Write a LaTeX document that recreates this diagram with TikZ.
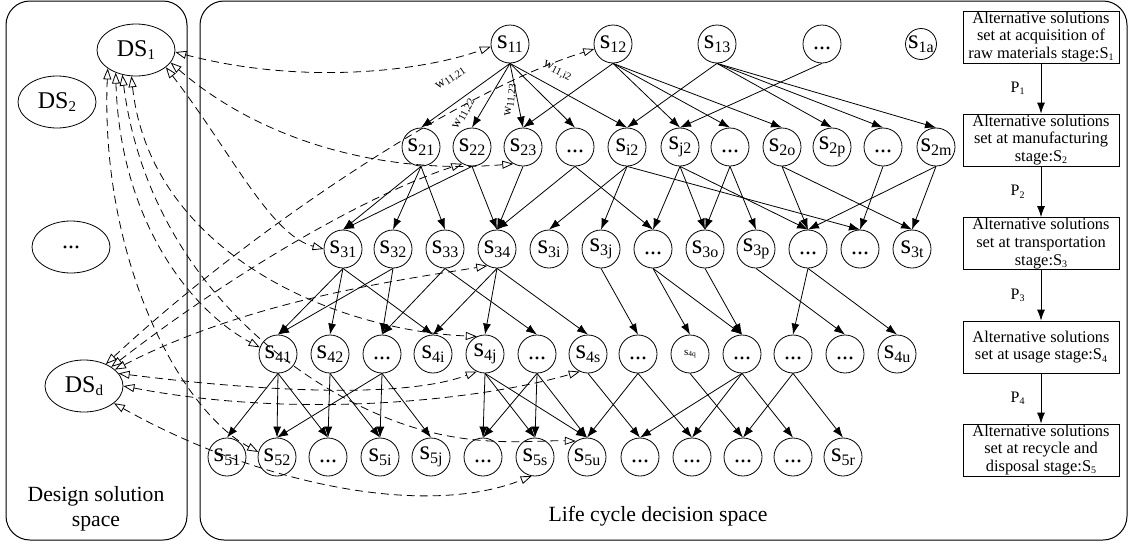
\documentclass[tikz,border=0pt]{standalone}
\usepackage{fontspec}
\setmainfont{Liberation Serif}
\usetikzlibrary{arrows.meta,shapes.geometric}
\newcommand{\sv}[1]{s\raisebox{-0.35ex}{\fontsize{16}{16}\selectfont #1}}
\newcommand{\dsv}[1]{DS\raisebox{-0.3ex}{\fontsize{15}{15}\selectfont #1}}
\newcommand{\ssb}[1]{\raisebox{-0.3ex}{\fontsize{10}{10}\selectfont #1}}
\newcommand{\wl}[1]{w\raisebox{-0.35ex}{\fontsize{10.5}{10.5}\selectfont #1}}
\begin{document}
\begin{tikzpicture}[x=1pt,y=-1pt,
 cn/.style={circle,draw,line width=0.8pt,minimum size=38pt,inner sep=0pt,font=\fontsize{27}{27}\selectfont},
 dn/.style={cn,font=\fontsize{24}{24}\selectfont},
 dsn/.style={ellipse,draw,line width=0.8pt,minimum width=78pt,minimum height=52pt,inner sep=0pt,font=\fontsize{24}{24}\selectfont},
 bx/.style={draw,line width=0.8pt,minimum width=156pt,minimum height=52pt,inner sep=0pt,align=center,font=\fontsize{16.4}{17.7}\selectfont},
 sa/.style={line width=0.8pt,-{Latex[length=11pt,width=8pt]}},
 da/.style={line width=0.8pt,dash pattern=on 8pt off 5pt,{Triangle[open,length=11pt,width=8pt]}-{Triangle[open,length=11pt,width=8pt]}},
 wlab/.style={font=\fontsize{13.5}{13.5}\selectfont,inner sep=0pt},
 plab/.style={font=\fontsize{16}{16}\selectfont,inner sep=0pt},
 panel/.style={draw,line width=1pt,rounded corners=24pt}]
\useasboundingbox (0,0) rectangle (1128,544);
\path[panel] (6,1) rectangle (187,540);
\path[panel] (200,1) rectangle (1127,540);
\node[font=\fontsize{21.7}{25}\selectfont,align=center] (dss) at (96,509) {Design solution\\space};
\node[font=\fontsize{21.7}{25}\selectfont] (lcs) at (658,516) {Life cycle decision space};
% design solutions
\node[dsn] (DS1) at (136,50) {\dsv{1}};
\node[dsn] (DS2) at (57,102) {\dsv{2}};
\node[dsn] (DSx) at (71,247) {...};
\node[dsn] (DSd) at (84,386) {\dsv{d}};
% row 1
\node[cn] (a1) at (510,44) {\sv{11}};
\node[cn] (a2) at (613,44) {\sv{12}};
\node[cn] (a3) at (717,44) {\sv{13}};
\node[dn] (a4) at (822,44) {\vphantom{s}...};
\node[cn,minimum size=31pt] (a5) at (921,44) {\sv{1a}};
% row 2
\node[cn] (b1) at (421,147) {\sv{21}};
\node[cn] (b2) at (472,147) {\sv{22}};
\node[cn] (b3) at (523,147) {\sv{23}};
\node[dn] (b4) at (575,147) {\vphantom{s}...};
\node[cn] (b5) at (627,147) {\sv{i2}};
\node[cn] (b6) at (680,147) {\sv{j2}};
\node[dn] (b7) at (730,147) {\vphantom{s}...};
\node[cn] (b8) at (782,147) {\sv{2o}};
\node[cn] (b9) at (832,147) {\sv{2p}};
\node[dn] (b10) at (883,147) {\vphantom{s}...};
\node[cn] (b11) at (936,147) {\sv{2m}};
% row 3
\node[cn] (c1) at (343,249) {\sv{31}};
\node[cn] (c2) at (393,249) {\sv{32}};
\node[cn] (c3) at (445,249) {\sv{33}};
\node[cn] (c4) at (497,249) {\sv{34}};
\node[cn] (c5) at (549,249) {\sv{3i}};
\node[cn] (c6) at (601,249) {\sv{3j}};
\node[dn] (c7) at (653,249) {\vphantom{s}...};
\node[cn] (c8) at (705,249) {\sv{3o}};
\node[cn] (c9) at (756,249) {\sv{3p}};
\node[dn] (c10) at (808,249) {\vphantom{s}...};
\node[dn] (c11) at (860,249) {\vphantom{s}...};
\node[cn] (c12) at (912,249) {\sv{3t}};
% row 4
\node[cn] (d1) at (278,354) {\sv{41}};
\node[cn] (d2) at (330,354) {\sv{42}};
\node[dn] (d3) at (382,354) {\vphantom{s}...};
\node[cn] (d4) at (433,354) {\sv{4i}};
\node[cn] (d5) at (485,354) {\sv{4j}};
\node[dn] (d6) at (537,354) {\vphantom{s}...};
\node[cn] (d7) at (588,354) {\sv{4s}};
\node[dn] (d8) at (638,354) {\vphantom{s}...};
\node[cn,font=\fontsize{11}{11}\selectfont] (d9) at (690,354) {s\raisebox{-0.3ex}{\fontsize{7.5}{7.5}\selectfont 4q}};
\node[dn] (d10) at (742,354) {\vphantom{s}...};
\node[dn] (d11) at (793,354) {\vphantom{s}...};
\node[dn] (d12) at (845,354) {\vphantom{s}...};
\node[cn] (d13) at (897,354) {\sv{4u}};
% row 5
\node[cn] (e1) at (227,457) {\sv{51}};
\node[cn] (e2) at (277,457) {\sv{52}};
\node[dn] (e3) at (328,457) {\vphantom{s}...};
\node[cn] (e4) at (380,457) {\sv{5i}};
\node[cn] (e5) at (431,457) {\sv{5j}};
\node[dn] (e6) at (483,457) {\vphantom{s}...};
\node[cn] (e7) at (535,457) {\sv{5s}};
\node[cn] (e8) at (587,457) {\sv{5u}};
\node[dn] (e9) at (640,457) {\vphantom{s}...};
\node[dn] (e10) at (692,457) {\vphantom{s}...};
\node[dn] (e11) at (743,457) {\vphantom{s}...};
\node[dn] (e12) at (793,457) {\vphantom{s}...};
\node[cn] (e13) at (843,457) {\sv{5r}};
% solid edges
\foreach \s/\t in {a1/b1,a1/b2,a1/b3,a1/b4,a1/b5,a2/b3,a2/b6,a2/b7,a2/b8,a3/b5,a3/b9,a3/b10,a3/b11,a4/b6,
 b1/c1,b1/c2,b1/c3,b2/c1,b2/c4,b3/c4,b4/c4,b4/c7,b5/c5,b5/c6,b5/c11,b6/c7,b6/c8,b6/c10,b7/c8,b7/c9,b8/c10,b8/c12,b10/c11,b11/c10,b11/c12,
 c1/d1,c1/d2,c1/d4,c2/d1,c2/d3,c3/d3,c3/d6,c4/d4,c4/d5,c4/d7,c6/d8,c7/d9,c7/d10,c8/d10,c9/d12,c10/d11,c10/d13,
 d1/e1,d1/e2,d1/e3,d2/e3,d2/e4,d3/e2,d3/e4,d3/e5,d5/e6,d5/e7,d5/e8,d6/e6,d6/e7,d6/e8,d7/e9,d8/e8,d8/e10,d9/e11,d10/e9,d10/e10,d10/e12,d11/e11,d11/e13}
 \draw[sa] (\s.south) -- (\t.north);
% weight labels
\node[wlab,rotate=34] (w1) at (451,79) {\wl{11,21}};
\node[wlab,rotate=62] (w2) at (464,114) {\wl{11,22}};
\node[wlab,rotate=84] (w3) at (511,100) {\wl{11,23}};
\node[wlab,rotate=-27] (w4) at (557,71) {\wl{11,i2}};
% dashed links
\draw[da] (DS1.357) .. controls (300,85) and (420,72) .. (a1.188);
\draw[da] (DS1.340) .. controls (260,140) and (380,175) .. (b3.240);
\draw[da] (DS1.330) .. controls (230,150) and (270,235) .. (c1.west);
\draw[da] (DS1.228) .. controls (120,220) and (190,310) .. (d1.160);
\draw[da] (DS1.213) .. controls (100,260) and (180,410) .. (e2.165);
\draw[da] (DS1.260) .. controls (150,250) and (330,330) .. (d5.115);
\draw[da] (DS1.241) .. controls (150,290) and (320,405) .. (430,432) .. controls (490,447) and (540,440) .. (e8.125);
\draw[da] (DSd.45) .. controls (250,230) and (460,90) .. (a2.195);
\draw[da] (DSd.35) .. controls (250,260) and (380,190) .. (b2.240);
\draw[da] (DSd.28) .. controls (250,300) and (400,280) .. (c4.240);
\draw[da] (DSd.20) .. controls (250,390) and (400,400) .. (d5.245);
\draw[da] (DSd.0) .. controls (300,420) and (480,400) .. (d7.245);
\draw[da] (DSd.330) .. controls (250,480) and (420,520) .. (e7.260);
% stage boxes
\node[bx] (S1) at (1041,37) {Alternative solutions\\set at acquisition of\\raw materials stage:S\ssb{1}};
\node[bx] (S2) at (1041,140) {Alternative solutions\\set at manufacturing\\stage:S\ssb{2}};
\node[bx] (S3) at (1041,243.5) {Alternative solutions\\set at transportation\\stage:S\ssb{3}};
\node[bx] (S4) at (1041,347) {Alternative solutions\\set at usage stage:S\ssb{4}};
\node[bx] (S5) at (1041,450) {Alternative solutions\\set at recycle and\\disposal stage:S\ssb{5}};
\draw[sa] (S1) -- node[plab,left=16pt] {P\ssb{1}} (S2);
\draw[sa] (S2) -- node[plab,left=16pt] {P\ssb{2}} (S3);
\draw[sa] (S3) -- node[plab,left=16pt] {P\ssb{3}} (S4);
\draw[sa] (S4) -- node[plab,left=16pt] {P\ssb{4}} (S5);
\end{tikzpicture}
\end{document}
